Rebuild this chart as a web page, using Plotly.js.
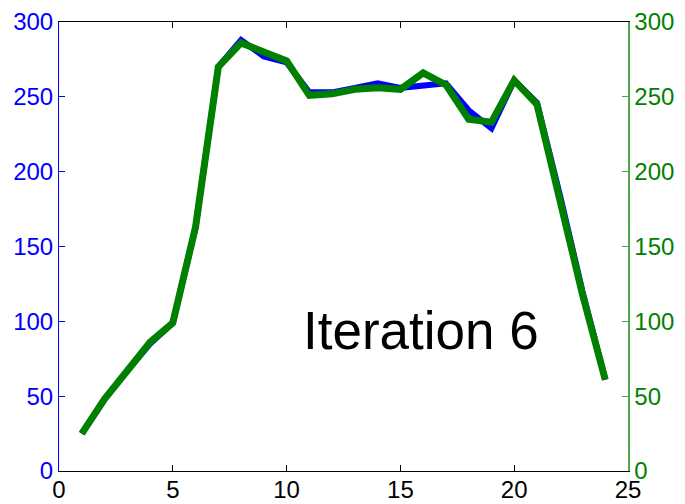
<!DOCTYPE html>
<html>
<head>
<meta charset="utf-8">
<script src="https://cdn.plot.ly/plotly-3.0.1.min.js"></script>
<style>
html,body{margin:0;padding:0;background:#fff;}
#chart{width:685px;height:504px;}
</style>
</head>
<body>
<div id="chart"></div>
<script>
const xValues = [1,2,3,4,5,6,7,8,9,10,11,12,13,14,15,16,17,18,19,20,21,22,23,24];
const blueSeries = [25,48,67,85,99,163,270,288,277,273,253,253,256,259,256,258,259,241,229,261,246,185,120,61];
const greenSeries = [25,48,67,86,99,163,270,286,280,274,251,252,255,256,255,266,258,235,233,261,245,182,118,61];
const xTicks = [0,5,10,15,20,25];
const yTicks = [0,50,100,150,200,250,300];
const labelText = "Iteration 6";

const blue = '#0000FF';
const green = '#008000';
const fontFam = 'Arial, "Liberation Sans", sans-serif';

const traces = [
  {x: xValues, y: blueSeries, type: 'scatter', mode: 'lines', yaxis: 'y',
   line: {color: blue, width: 6}, hoverinfo: 'skip'},
  {x: xValues, y: greenSeries, type: 'scatter', mode: 'lines', yaxis: 'y2',
   line: {color: green, width: 7}, hoverinfo: 'skip'}
];

const layout = {
  width: 685, height: 504,
  margin: {l: 58.5, r: 56.5, t: 22, b: 32.5, pad: 0},
  paper_bgcolor: '#fff', plot_bgcolor: '#fff',
  showlegend: false,
  font: {family: fontFam, size: 24, color: '#000'},
  xaxis: {
    range: [0, 25], tickvals: xTicks, ticktext: xTicks.map(String),
    ticks: 'inside', ticklen: 6, tickcolor: '#000', tickwidth: 1,
    showline: true, linecolor: '#000', linewidth: 1, mirror: 'ticks',
    showgrid: false, zeroline: false, ticklabelstandoff: -3,
    tickfont: {family: fontFam, size: 24, color: '#000'}
  },
  yaxis: {
    range: [0, 300], tickvals: yTicks, ticktext: yTicks.map(String),
    ticks: 'inside', ticklen: 6, tickcolor: blue, tickwidth: 1,
    showline: true, linecolor: blue, linewidth: 1,
    showgrid: false, zeroline: false,
    tickfont: {family: fontFam, size: 24, color: blue}
  },
  yaxis2: {
    range: [0, 300], tickvals: yTicks, ticktext: yTicks.map(String),
    overlaying: 'y', side: 'right',
    ticks: 'inside', ticklen: 6, tickcolor: '#4CA64C', tickwidth: 1,
    showline: true, linecolor: '#4CA64C', linewidth: 1.5,
    showgrid: false, zeroline: false,
    tickfont: {family: fontFam, size: 24, color: green}
  },
  annotations: [{
    x: 10.62, y: 94, xref: 'x', yref: 'y', xanchor: 'left', yanchor: 'middle',
    text: labelText, showarrow: false,
    font: {family: fontFam, size: 53, color: '#000'}
  }]
};

Plotly.newPlot('chart', traces, layout, {staticPlot: true, displayModeBar: false});
</script>
</body>
</html>
